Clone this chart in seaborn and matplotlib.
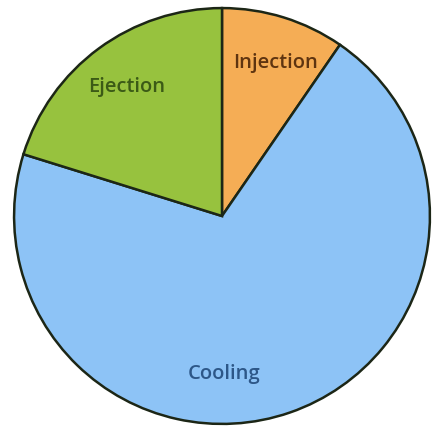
import numpy as np
import matplotlib
matplotlib.use("Agg")
import matplotlib.pyplot as plt
import seaborn as sns

# Share of the moulding cycle spent in each phase (%)
phases = ["Injection", "Cooling", "Ejection"]
shares = [9.6, 70.2, 20.2]

slice_colors = ["#F5AD55", "#8DC3F6", "#97C23E"]
text_colors = ["#5E3410", "#2D5788", "#3B5A16"]

sns.set_theme(style="white")
plt.rcParams["font.family"] = ["Open Sans", "DejaVu Sans"]

fig = plt.figure(figsize=(4.32, 4.29), dpi=100)
fig.patch.set_facecolor("white")
W, H = 432, 429
cx, cy, r = 222, 429 - 216, 210
ax = fig.add_axes([(cx - r) / W, (cy - r) / H, 2 * r / W, 2 * r / H])

wedges, _ = ax.pie(
    shares,
    colors=slice_colors,
    startangle=90,
    counterclock=False,
    radius=1.0,
    wedgeprops=dict(edgecolor="#1c2616", linewidth=1.8),
)
ax.set_xlim(-1.01, 1.01)
ax.set_ylim(-1.01, 1.01)
ax.set_aspect("equal")
ax.axis("off")

# Labels for the two small slices sit along each slice's mid-angle;
# the large cooling slice is labelled near the bottom of the circle.
for w, name, col in zip(wedges, phases, text_colors):
    if name == "Cooling":
        x, y = 0.01, -0.76
    else:
        mid = np.deg2rad((w.theta1 + w.theta2) / 2)
        x, y = 0.77 * np.cos(mid), 0.77 * np.sin(mid)
        if name == "Injection":
            x += 0.03
    ax.text(x, y, name, ha="center", va="center", fontsize=14.5,
            fontweight="semibold", color=col)

fig.savefig("out.png", dpi=100, facecolor="white")
